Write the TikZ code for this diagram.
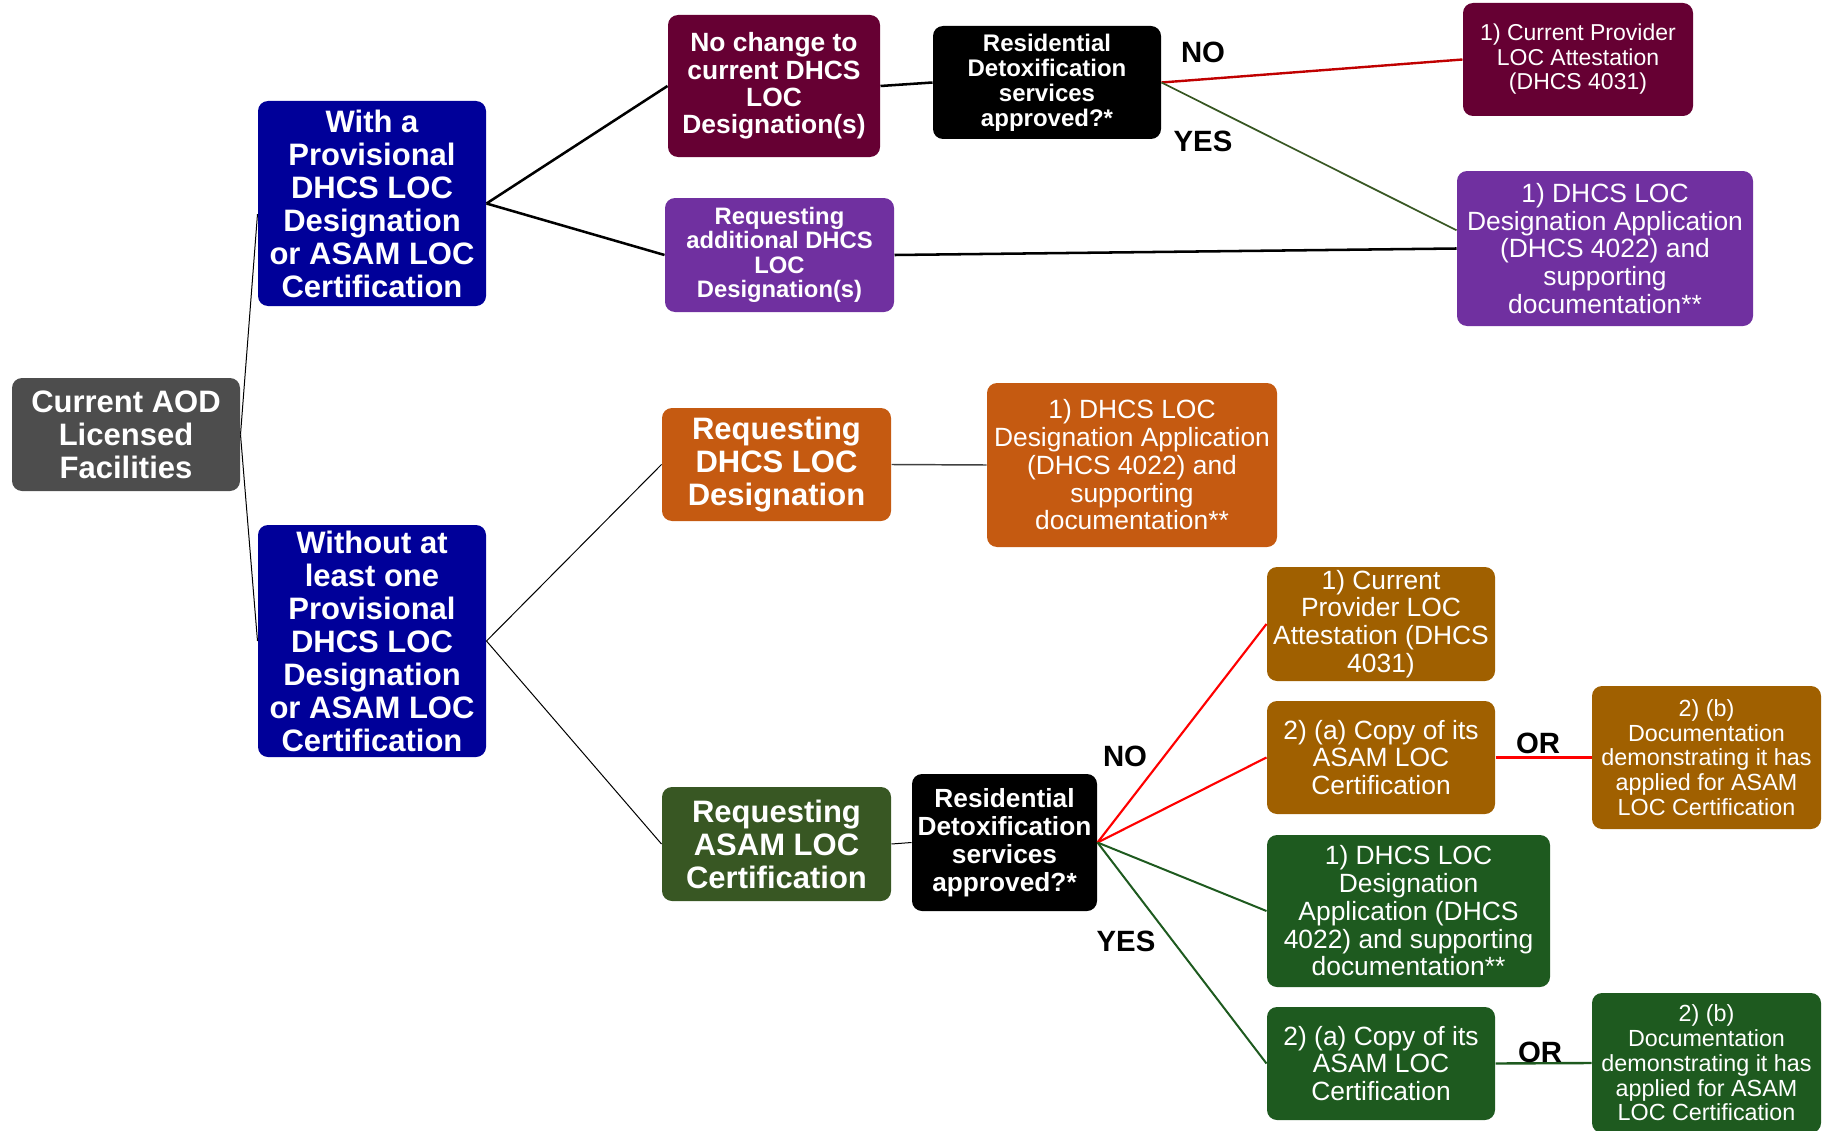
\documentclass[tikz,border=0pt]{standalone}
\usepackage{fontspec}
\setmainfont{Liberation Sans}
\definecolor{aodgray}{HTML}{4D4D4D}
\definecolor{navyblue}{HTML}{000099}
\definecolor{winemaroon}{HTML}{660033}
\definecolor{violetbox}{HTML}{7030A0}
\definecolor{rustorange}{HTML}{C55A11}
\definecolor{olivegreen}{HTML}{385723}
\definecolor{ochrebrown}{HTML}{A06000}
\definecolor{forestgreen}{HTML}{1E5A1F}
\definecolor{darkred}{HTML}{C00000}

\tikzset{every picture/.style={line width=0.75pt}}

\begin{document}
\begin{tikzpicture}[x=0.75pt,y=0.75pt,yscale=-1,xscale=1,
  box/.style={rounded corners=7.5pt, inner sep=0pt, align=center, text=white},
  bigtext/.style={font=\bfseries\fontsize{23.25}{24.75}\selectfont},
  formtext/.style={font=\fontsize{19.8}{20.8}\selectfont},
  smallform/.style={font=\fontsize{17.5}{18.6}\selectfont},
  answer/.style={inner sep=0pt, font=\bfseries\fontsize{22}{22}\selectfont},
  linkthin/.style={line width=0.75pt, black},
  linkthick/.style={line width=1.9pt, black},
  nolink/.style={line width=1.6pt, red},
  yeslink/.style={line width=1.5pt, forestgreen}]
\useasboundingbox (0,0) rectangle (1829,1131);

%Shape: Rounded Rect [Current AOD]
\node[box, bigtext, fill=aodgray, minimum width=171pt, minimum height=84.75pt] (aod) at (126,434.5) {Current AOD\\Licensed\\Facilities};
%Shape: Rounded Rect [With]
\node[box, bigtext, fill=navyblue, minimum width=171pt, minimum height=153.75pt] (withprov) at (372,203.5) {With a\\Provisional\\DHCS LOC\\Designation\\or ASAM LOC\\Certification};
%Shape: Rounded Rect [Without]
\node[box, bigtext, fill=navyblue, minimum width=171pt, minimum height=174pt] (withoutprov) at (372,641) {Without at\\least one\\Provisional\\DHCS LOC\\Designation\\or ASAM LOC\\Certification};

%Shape: Rounded Rect [No change]
\node[box, font=\bfseries\fontsize{19.8}{20.4}\selectfont, fill=winemaroon, minimum width=159pt, minimum height=106.5pt] (nochange) at (774,86) {No change to\\current DHCS\\LOC\\Designation(s)};
%Shape: Rounded Rect [Requesting additional]
\node[box, font=\bfseries\fontsize{17.85}{18.4}\selectfont, fill=violetbox, minimum width=171.75pt, minimum height=85.5pt] (reqadd) at (779.5,255) {Requesting\\additional DHCS\\LOC\\Designation(s)};
%Shape: Rounded Rect [Requesting DHCS]
\node[box, bigtext, fill=rustorange, minimum width=171.75pt, minimum height=84.75pt] (reqdhcs) at (776.5,464.5) {Requesting\\DHCS LOC\\Designation};
%Shape: Rounded Rect [Requesting ASAM]
\node[box, bigtext, fill=olivegreen, minimum width=171.75pt, minimum height=85.5pt] (reqasam) at (776.5,844) {Requesting\\ASAM LOC\\Certification};

%Shape: Rounded Rect [Residential upper]
\node[box, font=\bfseries\fontsize{18}{18.75}\selectfont, fill=black, minimum width=171pt, minimum height=84.75pt] (resone) at (1047,82.5) {Residential\\Detoxification\\services\\approved?*};
%Shape: Rounded Rect [Residential lower]
\node[box, font=\bfseries\fontsize{19.7}{21}\selectfont, fill=black, minimum width=138.75pt, minimum height=102.75pt] (restwo) at (1004.5,842.5) {Residential\\Detoxification\\services\\approved?*};

%Shape: Rounded Rect [forms upper]
\node[box, font=\fontsize{17.25}{18.4}\selectfont, fill=winemaroon, minimum width=172.5pt, minimum height=84.75pt] (currprovone) at (1578,59.5) {1) Current Provider\\LOC Attestation\\(DHCS 4031)};
\node[box, formtext, fill=violetbox, minimum width=222pt, minimum height=116.25pt] (appone) at (1605,248.5) {1) DHCS LOC\\Designation Application\\(DHCS 4022) and\\supporting\\documentation**};
\node[box, formtext, fill=rustorange, minimum width=217.5pt, minimum height=123pt] (apptwo) at (1132,465) {1) DHCS LOC\\Designation Application\\(DHCS 4022) and\\supporting\\documentation**};

%Shape: Rounded Rect [forms lower]
\node[box, formtext, fill=ochrebrown, minimum width=171pt, minimum height=85.5pt] (currprovtwo) at (1381,624) {1) Current\\Provider LOC\\Attestation (DHCS\\4031)};
\node[box, formtext, fill=ochrebrown, minimum width=171pt, minimum height=84.75pt] (copyone) at (1381,757.5) {2) (a) Copy of its\\ASAM LOC\\Certification};
\node[box, smallform, fill=ochrebrown, minimum width=171.75pt, minimum height=107.25pt] (docone) at (1706.5,757.5) {2) (b)\\Documentation\\demonstrating it has\\applied for ASAM\\LOC Certification};
\node[box, formtext, fill=forestgreen, minimum width=212.25pt, minimum height=114pt] (appthree) at (1408.5,911) {1) DHCS LOC\\Designation\\Application (DHCS\\4022) and supporting\\documentation**};
\node[box, formtext, fill=forestgreen, minimum width=171pt, minimum height=84.75pt] (copytwo) at (1381,1063.5) {2) (a) Copy of its\\ASAM LOC\\Certification};
\node[box, smallform, fill=forestgreen, minimum width=171.75pt, minimum height=105pt] (doctwo) at (1706.5,1063) {2) (b)\\Documentation\\demonstrating it has\\applied for ASAM\\LOC Certification};

%Straight Lines
\draw[linkthin] (aod.east) -- ([yshift=8pt]withprov.west);
\draw[linkthin] (aod.east) -- (withoutprov.west);
\draw[linkthick] (withprov.east) -- (nochange.west);
\draw[linkthick] (withprov.east) -- (reqadd.west);
\draw[linkthick] (nochange.east) -- (resone.west);
\draw[line width=1.8pt, darkred] (resone.east) -- (currprovone.west);
\draw[line width=1.3pt, olivegreen] (resone.east) -- (appone.173);
\draw[linkthick] (reqadd.east) -- (appone.west);
\draw[linkthin] (withoutprov.east) -- (reqdhcs.west);
\draw[linkthin] (withoutprov.east) -- (reqasam.west);
\draw[line width=1.1pt, black!75] (reqdhcs.east) -- (apptwo.west);
\draw[linkthin] (reqasam.east) -- (restwo.west);
\draw[nolink] (restwo.east) -- (currprovtwo.west);
\draw[nolink] (restwo.east) -- (copyone.west);
\draw[yeslink] (restwo.east) -- (appthree.west);
\draw[yeslink] (restwo.east) -- (copytwo.west);
\draw[line width=2pt, red] (copyone.east) -- (docone.west);
\draw[line width=1.8pt, forestgreen] (copytwo.east) -- (doctwo.west);

%Answers
\node[answer] (noone) at (1203,52) {NO};
\node[answer] (yesone) at (1203,141) {YES};
\node[answer] (notwo) at (1125,756) {NO};
\node[answer] (yestwo) at (1126,941) {YES};
\node[answer] (orone) at (1538,743) {OR};
\node[answer] (ortwo) at (1540,1052) {OR};

\end{tikzpicture}
\end{document}
